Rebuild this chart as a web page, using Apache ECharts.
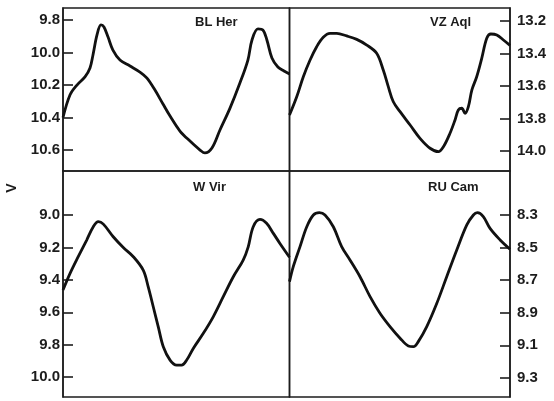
<!DOCTYPE html>
<html>
<head>
<meta charset="utf-8">
<script src="https://cdn.jsdelivr.net/npm/echarts@6/dist/echarts.min.js"></script>
<style>
  html, body { margin: 0; padding: 0; background: #fff; }
  #chart { width: 554px; height: 401px; }
</style>
</head>
<body>
<div id="chart"></div>
<script>
// Light curves of four Population II Cepheids, V magnitude against phase.

// BL Her
const blHerPhase = [0.0, 0.045, 0.089, 0.14, 0.172, 0.191, 0.217, 0.242, 0.261, 0.287, 0.318, 0.363, 0.427, 0.49, 0.535, 0.586, 0.637, 0.682, 0.745, 0.809, 0.873, 0.904, 0.949, 1.0, 1.064, 1.127, 1.178, 1.204, 1.242, 1.274, 1.299, 1.331, 1.369, 1.408, 1.443];
const blHerMag = [10.40, 10.26, 10.20, 10.15, 10.095, 10.015, 9.89, 9.83, 9.843, 9.905, 9.985, 10.046, 10.083, 10.12, 10.157, 10.231, 10.317, 10.391, 10.483, 10.545, 10.60, 10.618, 10.588, 10.477, 10.342, 10.188, 10.046, 9.923, 9.855, 9.862, 9.923, 10.034, 10.089, 10.114, 10.132];
const blHerTicks = [9.8, 10.0, 10.2, 10.4, 10.6];

// VZ Aql
const vzAqlPhase = [0.0, 0.046, 0.088, 0.131, 0.173, 0.215, 0.258, 0.301, 0.364, 0.428, 0.492, 0.555, 0.597, 0.629, 0.661, 0.704, 0.768, 0.831, 0.895, 0.948, 0.98, 1.022, 1.054, 1.075, 1.097, 1.118, 1.139, 1.161, 1.192, 1.224, 1.256, 1.282, 1.32, 1.362, 1.404];
const vzAqlMag = [13.778, 13.666, 13.543, 13.44, 13.358, 13.30, 13.276, 13.276, 13.292, 13.313, 13.348, 13.399, 13.502, 13.604, 13.697, 13.758, 13.84, 13.922, 13.983, 14.004, 13.974, 13.891, 13.809, 13.748, 13.737, 13.768, 13.727, 13.625, 13.543, 13.43, 13.306, 13.28, 13.286, 13.317, 13.35];
const vzAqlTicks = [13.2, 13.4, 13.6, 13.8, 14.0];

// W Vir
const wVirPhase = [0.0, 0.045, 0.097, 0.151, 0.193, 0.225, 0.257, 0.32, 0.384, 0.448, 0.511, 0.543, 0.575, 0.607, 0.639, 0.682, 0.724, 0.756, 0.788, 0.83, 0.894, 0.957, 1.021, 1.085, 1.148, 1.18, 1.212, 1.255, 1.297, 1.34, 1.382, 1.443];
const wVirMag = [9.463, 9.36, 9.257, 9.154, 9.072, 9.041, 9.056, 9.134, 9.20, 9.257, 9.34, 9.443, 9.566, 9.69, 9.813, 9.895, 9.926, 9.926, 9.895, 9.823, 9.73, 9.628, 9.504, 9.381, 9.278, 9.196, 9.072, 9.027, 9.051, 9.113, 9.175, 9.26];
const wVirTicks = [9.0, 9.2, 9.4, 9.6, 9.8, 10.0];

// RU Cam
const ruCamPhase = [0.0, 0.024, 0.067, 0.11, 0.152, 0.19, 0.226, 0.279, 0.332, 0.385, 0.449, 0.513, 0.576, 0.64, 0.704, 0.757, 0.789, 0.82, 0.874, 0.938, 1.001, 1.065, 1.129, 1.171, 1.196, 1.234, 1.277, 1.341, 1.404];
const ruCamMag = [8.709, 8.617, 8.494, 8.372, 8.30, 8.286, 8.30, 8.372, 8.494, 8.576, 8.679, 8.801, 8.903, 8.985, 9.056, 9.104, 9.108, 9.077, 8.985, 8.842, 8.679, 8.515, 8.361, 8.30, 8.286, 8.31, 8.382, 8.453, 8.51];
const ruCamTicks = [8.3, 8.5, 8.7, 8.9, 9.1, 9.3];

const starNames = ['BL Her', 'VZ Aql', 'W Vir', 'RU Cam'];

const INK = '#1c1c1c';
const labelFont = '"Liberation Sans", Arial, sans-serif';

// panel layout and magnitude range of each light curve
const panels = [
  { x: 63,    y: 8,   w: 226.5, h: 163, min: 9.726, max: 10.729, side: 'left',  pmax: 1.443, phase: blHerPhase, mag: blHerMag, ticks: blHerTicks },
  { x: 289.5, y: 8,   w: 220.5, h: 163, min: 13.12, max: 14.123, side: 'right', pmax: 1.404, phase: vzAqlPhase, mag: vzAqlMag, ticks: vzAqlTicks },
  { x: 63,    y: 171, w: 226.5, h: 226, min: 8.728, max: 10.123, side: 'left',  pmax: 1.443, phase: wVirPhase, mag: wVirMag, ticks: wVirTicks },
  { x: 289.5, y: 171, w: 220.5, h: 226, min: 8.03,  max: 9.417,  side: 'right', pmax: 1.404, phase: ruCamPhase, mag: ruCamMag, ticks: ruCamTicks }
];

const grid = [], xAxis = [], yAxis = [], series = [];
panels.forEach((p, i) => {
  grid.push({
    left: p.x, top: p.y, width: p.w, height: p.h,
    show: true, borderColor: INK, borderWidth: 1.5, backgroundColor: 'transparent'
  });
  xAxis.push({
    type: 'value', gridIndex: i, min: 0, max: p.pmax, show: false
  });
  yAxis.push({
    type: 'value', gridIndex: i, inverse: true, min: p.min, max: p.max,
    position: p.side,
    splitLine: { show: false },
    axisLine: { show: true, onZero: false, lineStyle: { color: INK, width: 1.5 } },
    axisTick: { show: true, inside: true, length: 10, customValues: p.ticks,
                lineStyle: { color: INK, width: 1.6 } },
    axisLabel: {
      show: true, customValues: p.ticks, inside: false,
      margin: p.side === 'left' ? 3 : 7,
      formatter: v => Number(v).toFixed(1),
      color: INK, fontSize: 15, fontWeight: 'bold', fontFamily: labelFont
    }
  });
  series.push({
    type: 'line', name: starNames[i], xAxisIndex: i, yAxisIndex: i,
    data: p.phase.map((ph, k) => [ph, p.mag[k]]),
    smooth: 0.35, showSymbol: false, symbol: 'none',
    lineStyle: { color: '#111', width: 2.8 },
    clip: true
  });
});

const titleStyle = { fontSize: 13, fontWeight: 'bold', color: INK, fontFamily: labelFont };
const title = [
  { text: starNames[0], left: 195, top: 16, padding: 0, textStyle: titleStyle },
  { text: starNames[1], left: 430, top: 16, padding: 0, textStyle: titleStyle },
  { text: starNames[2], left: 193, top: 181, padding: 0, textStyle: titleStyle },
  { text: starNames[3], left: 428, top: 181, padding: 0, textStyle: titleStyle }
];

const chart = echarts.init(document.getElementById('chart'), null, { renderer: 'canvas' });
chart.setOption({
  animation: false,
  backgroundColor: '#fff',
  title, grid, xAxis, yAxis, series,
  graphic: [{
    type: 'text', x: 12, y: 188, rotation: Math.PI / 2,
    style: { text: 'V', fill: INK, font: 'bold 14px ' + labelFont, align: 'center', verticalAlign: 'middle' }
  }]
});
</script>
</body>
</html>
